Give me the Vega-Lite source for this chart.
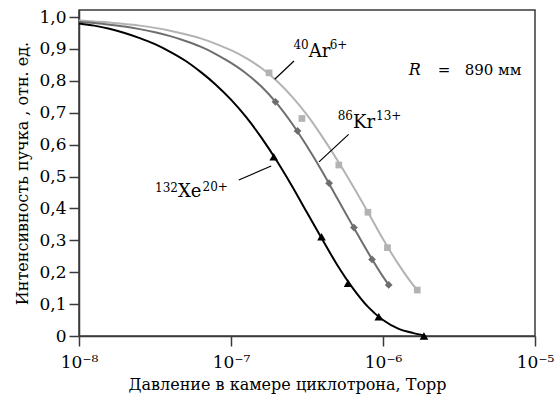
{
  "$schema": "https://vega.github.io/schema/vega-lite/v6.json",
  "width": 456,
  "height": 326,
  "autosize": "none",
  "padding": {"left": 79, "top": 10, "right": 21, "bottom": 66},
  "background": "white",
  "config": {
    "font": "DejaVu Serif",
    "view": {"stroke": "#3a3a3a", "strokeWidth": 1.5},
    "axis": {
      "domainColor": "#3a3a3a", "domainWidth": 1.5, "tickColor": "#3a3a3a", "tickWidth": 1.5,
      "grid": false, "labelFont": "DejaVu Serif", "labelColor": "#000000",
      "titleFont": "DejaVu Serif", "titleColor": "#000000", "titleFontWeight": "normal"
    },
    "text": {"font": "DejaVu Serif"}
  },
  "datasets": {
    "curves": [
      {"s": "Ar", "P": 1e-8, "I": 0.989}, {"s": "Ar", "P": 1.259e-8, "I": 0.986}, {"s": "Ar", "P": 1.585e-8, "I": 0.983},
      {"s": "Ar", "P": 1.995e-8, "I": 0.978}, {"s": "Ar", "P": 2.512e-8, "I": 0.973}, {"s": "Ar", "P": 3.162e-8, "I": 0.966},
      {"s": "Ar", "P": 3.981e-8, "I": 0.957}, {"s": "Ar", "P": 5.012e-8, "I": 0.946}, {"s": "Ar", "P": 6.31e-8, "I": 0.933},
      {"s": "Ar", "P": 7.943e-8, "I": 0.916}, {"s": "Ar", "P": 1e-7, "I": 0.896}, {"s": "Ar", "P": 1.259e-7, "I": 0.871},
      {"s": "Ar", "P": 1.585e-7, "I": 0.840}, {"s": "Ar", "P": 1.995e-7, "I": 0.800}, {"s": "Ar", "P": 2.512e-7, "I": 0.751},
      {"s": "Ar", "P": 3.162e-7, "I": 0.693}, {"s": "Ar", "P": 3.981e-7, "I": 0.625}, {"s": "Ar", "P": 5.012e-7, "I": 0.551},
      {"s": "Ar", "P": 6.31e-7, "I": 0.472}, {"s": "Ar", "P": 7.943e-7, "I": 0.389}, {"s": "Ar", "P": 1e-6, "I": 0.304},
      {"s": "Ar", "P": 1.259e-6, "I": 0.226}, {"s": "Ar", "P": 1.585e-6, "I": 0.159}, {"s": "Ar", "P": 1.68e-6, "I": 0.145},
      {"s": "Kr", "P": 1e-8, "I": 0.985}, {"s": "Kr", "P": 1.259e-8, "I": 0.981}, {"s": "Kr", "P": 1.585e-8, "I": 0.976},
      {"s": "Kr", "P": 1.995e-8, "I": 0.970}, {"s": "Kr", "P": 2.512e-8, "I": 0.962}, {"s": "Kr", "P": 3.162e-8, "I": 0.952},
      {"s": "Kr", "P": 3.981e-8, "I": 0.940}, {"s": "Kr", "P": 5.012e-8, "I": 0.925}, {"s": "Kr", "P": 6.31e-8, "I": 0.907},
      {"s": "Kr", "P": 7.943e-8, "I": 0.884}, {"s": "Kr", "P": 1e-7, "I": 0.856}, {"s": "Kr", "P": 1.259e-7, "I": 0.823},
      {"s": "Kr", "P": 1.585e-7, "I": 0.782}, {"s": "Kr", "P": 1.995e-7, "I": 0.730}, {"s": "Kr", "P": 2.512e-7, "I": 0.667},
      {"s": "Kr", "P": 3.162e-7, "I": 0.595}, {"s": "Kr", "P": 3.981e-7, "I": 0.516}, {"s": "Kr", "P": 5.012e-7, "I": 0.431},
      {"s": "Kr", "P": 6.31e-7, "I": 0.346}, {"s": "Kr", "P": 7.943e-7, "I": 0.263}, {"s": "Kr", "P": 1e-6, "I": 0.186},
      {"s": "Kr", "P": 1.09e-6, "I": 0.160},
      {"s": "Xe", "P": 1e-8, "I": 0.980}, {"s": "Xe", "P": 1.259e-8, "I": 0.973}, {"s": "Xe", "P": 1.585e-8, "I": 0.963},
      {"s": "Xe", "P": 1.995e-8, "I": 0.950}, {"s": "Xe", "P": 2.512e-8, "I": 0.934}, {"s": "Xe", "P": 3.162e-8, "I": 0.915},
      {"s": "Xe", "P": 3.981e-8, "I": 0.891}, {"s": "Xe", "P": 5.012e-8, "I": 0.863}, {"s": "Xe", "P": 6.31e-8, "I": 0.828},
      {"s": "Xe", "P": 7.943e-8, "I": 0.788}, {"s": "Xe", "P": 1e-7, "I": 0.741}, {"s": "Xe", "P": 1.259e-7, "I": 0.686},
      {"s": "Xe", "P": 1.585e-7, "I": 0.622}, {"s": "Xe", "P": 1.995e-7, "I": 0.550}, {"s": "Xe", "P": 2.512e-7, "I": 0.471},
      {"s": "Xe", "P": 3.162e-7, "I": 0.387}, {"s": "Xe", "P": 3.981e-7, "I": 0.303}, {"s": "Xe", "P": 5.012e-7, "I": 0.222},
      {"s": "Xe", "P": 6.31e-7, "I": 0.151}, {"s": "Xe", "P": 7.943e-7, "I": 0.092}, {"s": "Xe", "P": 1e-6, "I": 0.050},
      {"s": "Xe", "P": 1.259e-6, "I": 0.023}, {"s": "Xe", "P": 1.585e-6, "I": 0.009}, {"s": "Xe", "P": 1.86e-6, "I": 0.002}
    ],
    "points": [
      {"s": "Ar", "P": 1.78e-7, "I": 0.825}, {"s": "Ar", "P": 2.93e-7, "I": 0.682}, {"s": "Ar", "P": 5.12e-7, "I": 0.536},
      {"s": "Ar", "P": 7.96e-7, "I": 0.388}, {"s": "Ar", "P": 1.07e-6, "I": 0.277}, {"s": "Ar", "P": 1.68e-6, "I": 0.144},
      {"s": "Kr", "P": 1.96e-7, "I": 0.734}, {"s": "Kr", "P": 2.74e-7, "I": 0.643}, {"s": "Kr", "P": 4.42e-7, "I": 0.479},
      {"s": "Kr", "P": 6.44e-7, "I": 0.340}, {"s": "Kr", "P": 8.47e-7, "I": 0.240}, {"s": "Kr", "P": 1.09e-6, "I": 0.160},
      {"s": "Xe", "P": 1.91e-7, "I": 0.562}, {"s": "Xe", "P": 3.94e-7, "I": 0.311}, {"s": "Xe", "P": 5.89e-7, "I": 0.165},
      {"s": "Xe", "P": 9.38e-7, "I": 0.060}, {"s": "Xe", "P": 1.86e-6, "I": 0.0}
    ],
    "leaders": [
      {"P": 1.939e-7, "I": 0.805, "P2": 2.597e-7, "I2": 0.862},
      {"P": 3.793e-7, "I": 0.546, "P2": 5.94e-7, "I2": 0.632},
      {"P": 1.125e-7, "I": 0.489, "P2": 1.839e-7, "I2": 0.533}
    ],
    "labels": [
      {"t": "40", "part": "pre", "P": 3.244e-7, "I": 0.900},
      {"t": "Ar", "part": "main", "P": 3.244e-7, "I": 0.8755},
      {"t": "6+", "part": "post", "P": 4.459e-7, "I": 0.900},
      {"t": "86", "part": "pre", "P": 6.347e-7, "I": 0.677},
      {"t": "Kr", "part": "main", "P": 6.347e-7, "I": 0.651},
      {"t": "13+", "part": "post", "P": 9.0e-7, "I": 0.677},
      {"t": "132", "part": "pre", "P": 4.479e-8, "I": 0.453},
      {"t": "Xe", "part": "main", "P": 4.479e-8, "I": 0.4357},
      {"t": "20+", "part": "post", "P": 6.5e-8, "I": 0.4545},
      {"t": "R", "part": "ital", "P": 1.476e-6, "I": 0.818},
      {"t": "=", "part": "plain", "P": 2.291e-6, "I": 0.818},
      {"t": "890 мм", "part": "plain", "P": 3.447e-6, "I": 0.818}
    ]
  },
  "encoding": {
    "x": {
      "field": "P", "type": "quantitative",
      "scale": {"type": "log", "domain": [1e-8, 1e-5]},
      "axis": {
        "values": [1e-8, 1e-7, 1e-6, 1e-5],
        "labelExpr": "'10⁻' + ['⁰','¹','²','³','⁴','⁵','⁶','⁷','⁸','⁹'][-round(log(datum.value)/LN10)]",
        "tickSize": 10, "labelPadding": 8, "labelFontSize": 17, "labelFlush": false, "labelOverlap": false,
        "title": "Давление в камере циклотрона, Торр", "titleFontSize": 16, "titlePadding": 6, "titleX": 208
      }
    },
    "y": {
      "field": "I", "type": "quantitative",
      "scale": {"domain": [0, 1.022], "nice": false, "zero": false},
      "axis": {
        "values": [0, 0.1, 0.2, 0.3, 0.4, 0.5, 0.6, 0.7, 0.8, 0.9, 1.0],
        "labelExpr": "datum.value == 0 ? '0' : replace(format(datum.value, '.1f'), '.', ',')",
        "tickSize": 10, "labelPadding": 3, "labelFontSize": 17,
        "title": "Интенсивность пучка , отн. ед.", "titleFontSize": 16, "titlePadding": 8
      }
    }
  },
  "layer": [
    {
      "data": {"name": "curves"},
      "mark": {"type": "line", "strokeWidth": 2, "interpolate": "monotone"},
      "encoding": {
        "detail": {"field": "s"},
        "color": {"field": "s", "type": "nominal", "scale": {"domain": ["Ar", "Kr", "Xe"], "range": ["#b3b3b3", "#6e6e6e", "#000000"]}, "legend": null}
      }
    },
    {
      "data": {"name": "points"},
      "mark": {"type": "point", "filled": true, "opacity": 1},
      "encoding": {
        "color": {"field": "s", "type": "nominal", "scale": {"domain": ["Ar", "Kr", "Xe"], "range": ["#b3b3b3", "#6e6e6e", "#000000"]}, "legend": null},
        "shape": {"field": "s", "type": "nominal", "scale": {"domain": ["Ar", "Kr", "Xe"], "range": ["square", "diamond", "triangle-up"]}, "legend": null},
        "size": {"field": "s", "type": "nominal", "scale": {"domain": ["Ar", "Kr", "Xe"], "range": [45, 75, 80]}, "legend": null}
      }
    },
    {
      "data": {"name": "leaders"},
      "mark": {"type": "rule", "color": "#000000", "strokeWidth": 1.2},
      "encoding": {
        "x2": {"field": "P2"},
        "y2": {"field": "I2"}
      }
    },
    {
      "data": {"name": "labels"},
      "transform": [{"filter": "datum.part == 'pre'"}],
      "mark": {"type": "text", "align": "right", "baseline": "alphabetic", "fontSize": 12, "color": "#000000"},
      "encoding": {"text": {"field": "t"}}
    },
    {
      "data": {"name": "labels"},
      "transform": [{"filter": "datum.part == 'main'"}],
      "mark": {"type": "text", "align": "left", "baseline": "alphabetic", "fontSize": 18, "color": "#000000"},
      "encoding": {"text": {"field": "t"}}
    },
    {
      "data": {"name": "labels"},
      "transform": [{"filter": "datum.part == 'post'"}],
      "mark": {"type": "text", "align": "left", "baseline": "alphabetic", "fontSize": 12, "color": "#000000"},
      "encoding": {"text": {"field": "t"}}
    },
    {
      "data": {"name": "labels"},
      "transform": [{"filter": "datum.part == 'ital'"}],
      "mark": {"type": "text", "align": "left", "baseline": "alphabetic", "fontSize": 16, "fontStyle": "italic", "color": "#000000"},
      "encoding": {"text": {"field": "t"}}
    },
    {
      "data": {"name": "labels"},
      "transform": [{"filter": "datum.part == 'plain'"}],
      "mark": {"type": "text", "align": "left", "baseline": "alphabetic", "fontSize": 15, "color": "#000000"},
      "encoding": {"text": {"field": "t"}}
    }
  ]
}
